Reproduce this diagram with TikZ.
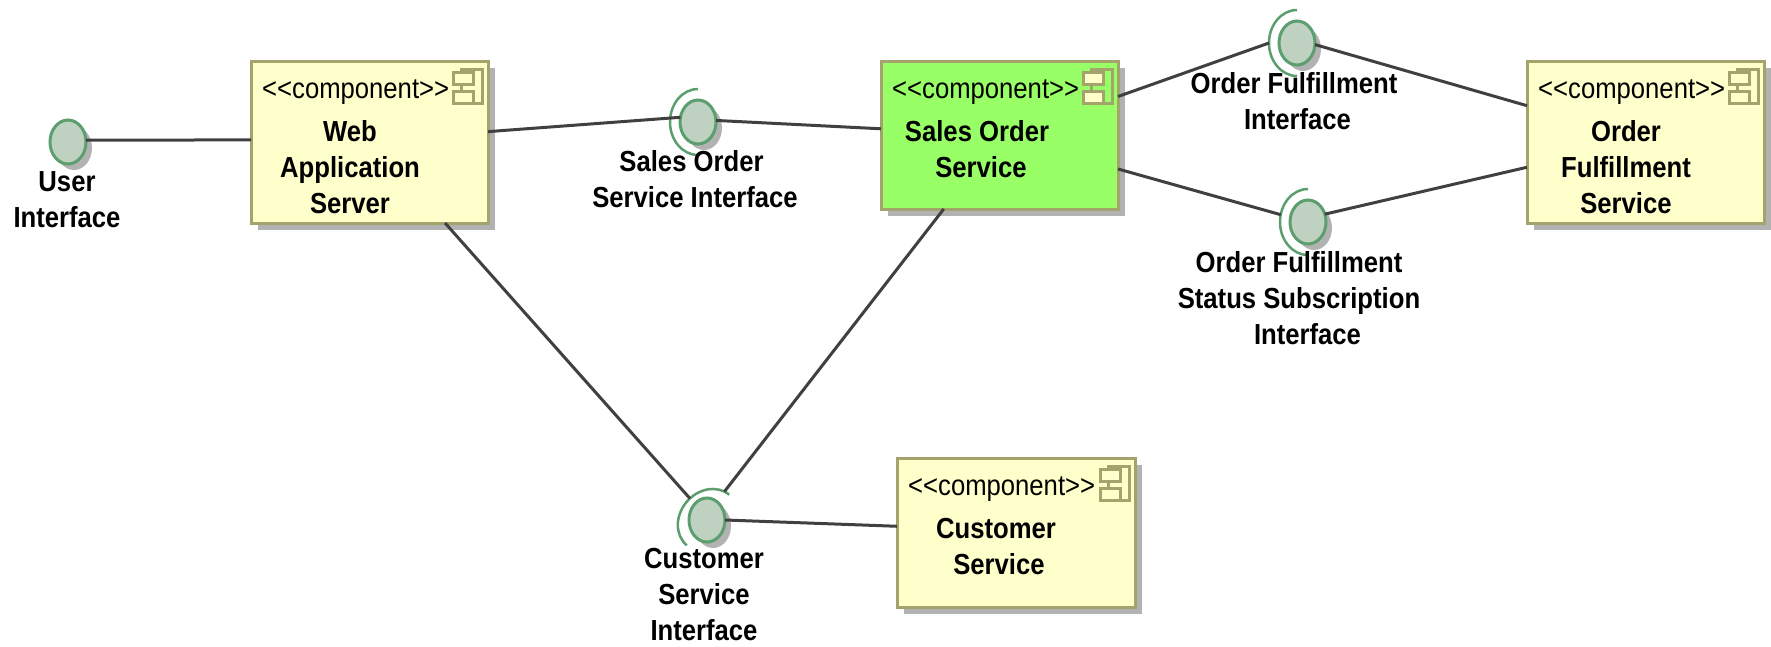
\documentclass[tikz,border=0pt]{standalone}
\usepackage{fontspec}
\setmainfont[FakeStretch=0.885]{Liberation Sans}
\usetikzlibrary{shapes.geometric,shadows}
\definecolor{boxfill}{HTML}{FFFFCC}
\definecolor{boxline}{HTML}{A3A36B}
\definecolor{hotfill}{HTML}{99FF66}
\definecolor{shgray}{HTML}{B2B2B2}
\definecolor{ballfill}{HTML}{BFD2C2}
\definecolor{ballline}{HTML}{5C9E6E}
\definecolor{wire}{HTML}{404040}
\tikzset{
  compbox/.style={rectangle,draw=boxline,fill=boxfill,line width=3pt,inner sep=0pt,outer sep=0pt,
    copy shadow={shadow xshift=7pt,shadow yshift=-7pt,draw=none,fill=shgray}},
  stereotext/.style={inner sep=0pt,font=\fontsize{29}{36}\selectfont,anchor=base west},
  nametext/.style={inner sep=0pt,align=center,font=\fontsize{29}{36}\selectfont\bfseries},
  ballnode/.style={ellipse,draw=ballline,fill=ballfill,line width=3pt,inner sep=0pt,outer sep=0pt,
    minimum width=36pt,minimum height=44pt,
    copy shadow={shadow xshift=6pt,shadow yshift=-6pt,draw=none,fill=shgray}},
  cupnode/.style={ellipse,inner sep=0pt,outer sep=0pt,minimum width=56pt,minimum height=66pt},
  cuparc/.style={draw=ballline,line width=2.5pt},
  wireline/.style={draw=wire,line width=3pt},
  iconline/.style={draw=boxline,line width=3pt}
}
\newcommand{\compicon}[1]{%
  \draw[iconline] ([shift={(-27pt,-8pt)}]#1.north east) rectangle ([shift={(-6pt,-42pt)}]#1.north east);
  \draw[iconline,fill=boxfill] ([shift={(-35pt,-11pt)}]#1.north east) rectangle ([shift={(-15pt,-23pt)}]#1.north east);
  \draw[iconline,fill=boxfill] ([shift={(-35pt,-30pt)}]#1.north east) rectangle ([shift={(-15pt,-42pt)}]#1.north east);
  \node[stereotext] at ([shift={(11pt,-37pt)}]#1.north west) {<{}<{}component>{}>};
}
\begin{document}
\begin{tikzpicture}[x=1pt,y=-1pt]
\useasboundingbox (0,0) rectangle (1771,646);
% components
\node[compbox,minimum width=237pt,minimum height=162pt] (web) at (369.5,142) {};
\node[compbox,minimum width=237pt,minimum height=148pt,fill=hotfill] (sales) at (999.5,135) {};
\node[compbox,minimum width=237.5pt,minimum height=162pt] (order) at (1645.75,142) {};
\node[compbox,minimum width=238pt,minimum height=149pt] (customer) at (1016,532.5) {};
\compicon{web}\compicon{sales}\compicon{order}\compicon{customer}
% interfaces
\node[ballnode] (userif) at (68,142) {};
\node[ballnode] (salesif) at (698,122) {};
\node[ballnode] (ofif) at (1297,43) {};
\node[ballnode] (ofsif) at (1308,222) {};
\node[ballnode] (custif) at (707,520) {};
\node[cupnode] (salescup) at (698,122) {};
\node[cupnode] (ofcup) at (1297,43) {};
\node[cupnode] (ofscup) at (1308,222) {};
\node[cupnode,rotate=-40] (custcup) at (708,520) {};
\foreach \c in {salescup,ofcup,ofscup}
  \draw[cuparc] (\c.90) arc[start angle=90,end angle=270,x radius=28pt,y radius=33pt];
\draw[cuparc,rotate=-40] (custcup.90) arc[start angle=90,end angle=270,x radius=28pt,y radius=33pt];
% connectors
\draw[wireline] (userif.6) -- (web.179);
\draw[wireline] (web.5.5) -- (salesif.165);
\draw[wireline] (salesif.5) -- (sales.177.6);
\draw[wireline] (sales.18.6) -- (ofcup.180);
\draw[wireline] (ofif.-5) -- (order.163.6);
\draw[wireline] (sales.-16) -- (ofscup.165);
\draw[wireline] (ofsif.25) -- (order.192.8);
\draw[wireline] (web.-47.8) -- (custcup.170);
\draw[wireline] (sales.-127.9) -- (custcup.100);
\draw[wireline] (custif.east) -- (customer.177.4);
% names
\node[nametext] (webname) at (350,167) {Web\\Application\\Server};
\node[nametext] (salesname) at (977,149) {Sales Order\\\hspace*{8pt}Service};
\node[nametext] (ordername) at (1626,167) {Order\\Fulfillment\\Service};
\node[nametext] (custname) at (996,547) {Customer\\\hspace*{6pt}Service};
\node[nametext] (userlabel) at (67,200) {User\\Interface};
\node[nametext] (saleslabel) at (695,179) {Sales Order\hspace*{7pt}\\Service Interface};
\node[nametext] (oflabel) at (1294,101) {Order Fulfillment\\\hspace*{7pt}Interface};
\node[nametext] (ofslabel) at (1299,298) {Order Fulfillment\\Status Subscription\\\hspace*{17pt}Interface};
\node[nametext] (custlabel) at (704,595) {Customer\\Service\\Interface};
\end{tikzpicture}
\end{document}
